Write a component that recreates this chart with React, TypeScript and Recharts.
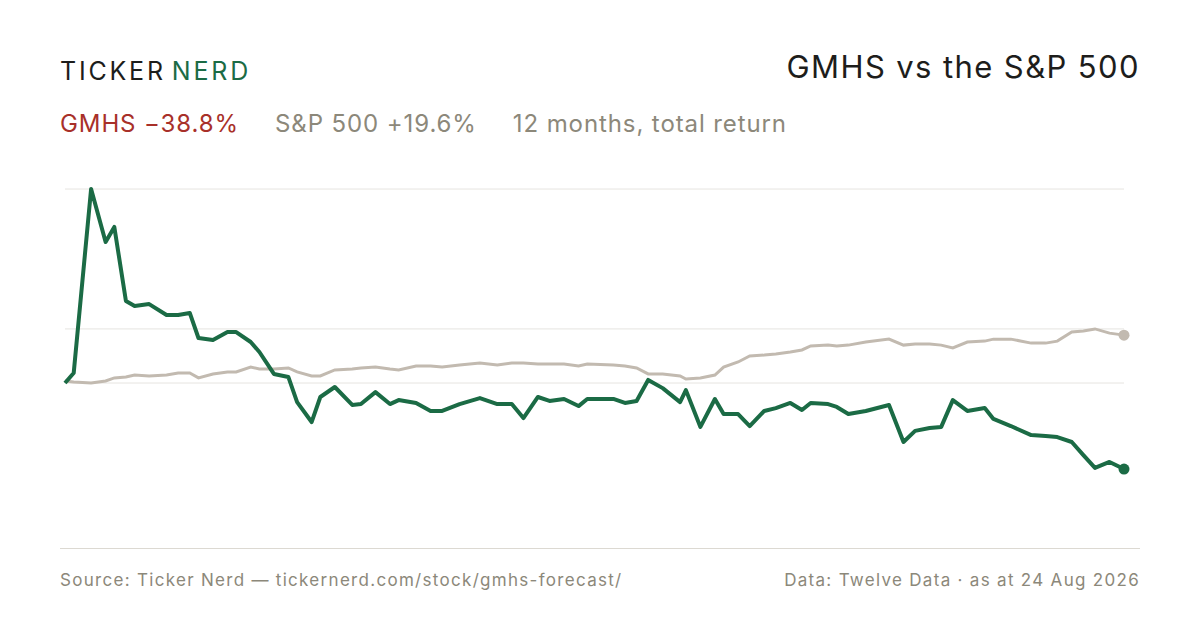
import React from "react";
import { LineChart, Line, XAxis, YAxis, ReferenceLine } from "recharts";

const days = [0,3,9,14,17,21,24,29,35,39,43,46,51,56,59,64,67,72,77,80,85,88,93,99,102,107,112,115,121,126,130,136,143,149,154,158,163,167,172,177,180,189,193,197,201,206,212,214,219,224,227,232,236,241,245,250,254,257,263,266,270,276,284,289,293,298,302,306,311,317,320,326,333,338,342,347,351,355,360,365];
const gmhs = [0,4.5,87.5,63.6,70.4,37.0,34.7,35.6,30.7,30.7,31.6,20.3,19.4,23.0,23.0,18.5,14.0,4.1,2.7,-8.6,-17.6,-6.3,-1.8,-9.9,-9.5,-4.1,-9.5,-7.7,-9.0,-12.6,-12.6,-9.5,-6.8,-9.5,-9.5,-15.8,-6.3,-8.1,-7.2,-10.4,-7.2,-7.2,-9.0,-8.1,1.4,-2.3,-8.6,-3.2,-19.8,-7.2,-14.0,-14.0,-19.4,-12.6,-11.3,-9.0,-12.2,-9.0,-9.5,-10.8,-14.0,-12.6,-9.9,-26.6,-21.6,-20.3,-19.8,-7.7,-12.6,-11.3,-16.2,-19.4,-23.5,-23.9,-24.4,-26.6,-32.5,-38.3,-35.6,-38.8];
const spx = [0.9,0.5,0,0.9,2.3,2.7,3.6,3.2,3.6,4.5,4.5,2.3,4.1,5.0,5.0,7.2,6.3,6.3,6.8,5.0,3.2,3.2,5.9,6.3,6.8,7.2,6.3,5.9,7.7,7.7,7.2,8.1,9.0,8.1,9.0,9.0,8.6,8.6,8.6,7.7,8.6,8.1,7.7,6.8,4.1,4.1,3.2,1.8,2.3,3.6,7.2,9.5,12.2,12.6,13.1,14.0,14.9,16.7,17.1,16.7,17.1,18.5,19.8,17.1,17.6,17.6,17.1,15.8,18.5,18.9,19.8,19.8,18.0,18.0,18.9,23.0,23.5,24.4,22.5,21.6];
const gridValues = [87.5, 24.4, 0];

const data = days.map((d, i) => ({ d, gmhs: gmhs[i], spx: spx[i] }));
const last = data.length - 1;

const GREEN = "#1b6b45";
const LIGHT = "#c2bab0";
const GREY = "#8c887a";
const RED = "#a83029";

const endDot = (color: string) => (p: any) =>
  p.index === last ? <circle key="e" cx={p.cx} cy={p.cy} r={5.5} fill={color} /> : <g key={p.index} />;

export default function App() {
  const font = "Inter, 'Noto Sans', sans-serif";
  return (
    <div style={{ position: "absolute", left: 0, top: 0, width: 1200, height: 630, background: "#fff", fontFamily: font }}>
      <div style={{ position: "absolute", left: 60, top: 56, fontSize: 25, letterSpacing: 2.8, color: "#1d1d1b", lineHeight: "30px", whiteSpace: "nowrap" }}>
        TICKER<span style={{ color: GREEN, marginLeft: 6 }}>NERD</span>
      </div>
      <div style={{ position: "absolute", right: 60, top: 48, fontSize: 31, letterSpacing: 1.4, color: "#1d1d1b", lineHeight: "38px", whiteSpace: "nowrap" }}>
        GMHS vs the S&amp;P 500
      </div>
      <div style={{ position: "absolute", left: 60, top: 109, fontSize: 24, letterSpacing: 0.9, lineHeight: "30px", whiteSpace: "nowrap" }}>
        <span style={{ color: RED }}>GMHS −38.8%</span>
        <span style={{ color: GREY, marginLeft: 36 }}>S&amp;P 500 +19.6%</span>
        <span style={{ color: GREY, marginLeft: 36 }}>12 months, total return</span>
      </div>
      <div style={{ position: "absolute", left: 0, top: 0 }}>
        <LineChart width={1200} height={630} data={data} margin={{ top: 160, right: 76, bottom: 100, left: 65 }}>
          <XAxis dataKey="d" type="number" domain={[0, 365]} hide />
          <YAxis type="number" domain={[-66.3, 100.6]} hide />
          {gridValues.map((v) => (
            <ReferenceLine key={v} y={v} stroke="#e6e4e0" strokeWidth={1} />
          ))}
          <Line dataKey="spx" stroke={LIGHT} strokeWidth={3} dot={endDot(LIGHT)} isAnimationActive={false} />
          <Line dataKey="gmhs" stroke={GREEN} strokeWidth={4} dot={endDot(GREEN)} isAnimationActive={false} strokeLinejoin="round" />
        </LineChart>
      </div>
      <div style={{ position: "absolute", left: 60, width: 1080, top: 548, height: 1, background: "#dcd9d2" }} />
      <div style={{ position: "absolute", left: 60, top: 569, fontSize: 17, letterSpacing: 1.3, color: GREY, lineHeight: "22px", whiteSpace: "nowrap" }}>
        Source: Ticker Nerd — tickernerd.com/stock/gmhs-forecast/
      </div>
      <div style={{ position: "absolute", right: 60, top: 569, fontSize: 17, letterSpacing: 1.3, color: GREY, lineHeight: "22px", whiteSpace: "nowrap" }}>
        Data: Twelve Data · as at 24 Aug 2026
      </div>
    </div>
  );
}
